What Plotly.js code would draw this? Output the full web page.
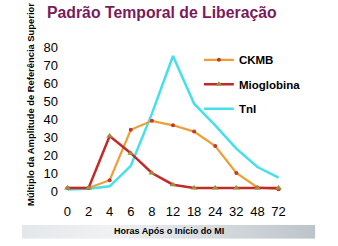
<!DOCTYPE html>
<html>
<head>
<meta charset="utf-8">
<script src="https://cdn.plot.ly/plotly-3.0.1.min.js"></script>
<style>html,body{margin:0;padding:0;background:#fff;}#chart{width:338px;height:246px;}</style>
</head>
<body>
<div id="chart"></div>
<script>
const hours = ['0','2','4','6','8','12','18','24','32','48','72'];
const ckmb = [1.7, 1.7, 6, 34, 39, 36.5, 33, 25, 10, 2, 1];
const mioglobina = [1.7, 1.7, 30.5, 21, 10, 3.5, 1.7, 1.7, 1.7, 1.7, 1.7];
const tni = [0.9, 1.3, 2.6, 14, 43, 75, 48.5, 36.5, 23.5, 13.3, 7.4];
const yTicks = [0, 10, 20, 30, 40, 50, 60, 70, 80];
const titleText = 'Padrão Temporal de Liberação';
const xTitle = 'Horas Após o Início do MI';
const yTitle = 'Múltiplo da Amplitude de Referência Superior';

const FONT = 'Arial, "Liberation Sans", sans-serif';

const traces = [
  {x: hours, y: tni, name: 'TnI', type: 'scatter', mode: 'lines',
   line: {color: '#45E0EA', width: 2.5}, legendrank: 3, legendgroup: 'c', cliponaxis: false},
  {x: hours, y: ckmb, name: 'CKMB', type: 'scatter', mode: 'lines+markers',
   line: {color: '#EE9E35', width: 2.2}, marker: {color: '#C0392B', size: 4, symbol: 'circle'},
   legendrank: 1, legendgroup: 'a', cliponaxis: false},
  {x: hours, y: mioglobina, name: 'Mioglobina', type: 'scatter', mode: 'lines+markers',
   line: {color: '#C22A2A', width: 2.5}, marker: {color: '#9E8E3E', size: 6, symbol: 'triangle-up'},
   legendrank: 2, legendgroup: 'b', cliponaxis: false}
];

const gradSvg = '<svg xmlns="http://www.w3.org/2000/svg" width="295" height="14"><defs><linearGradient id="g" x1="0" x2="1" y1="0" y2="0"><stop offset="0" stop-color="#e4e7ea"/><stop offset="0.3" stop-color="#f0f1f2"/><stop offset="1" stop-color="#bcc4cb"/></linearGradient></defs><rect width="295" height="14" fill="url(#g)"/></svg>';

const L = 58.5, R = 50.5, T = 46.7, B = 55.3;
const W = 338 - L - R, H = 246 - T - B;
const px = v => (v - L) / W;
const py = v => (246 - B - v) / H;

const layout = {
  width: 338, height: 246,
  margin: {l: L, r: R, t: T, b: B, pad: 0},
  paper_bgcolor: '#ffffff', plot_bgcolor: '#ffffff',
  font: {family: FONT, color: '#000'},
  showlegend: true,
  legend: {x: px(199), y: py(45), xanchor: 'left', yanchor: 'top',
    bgcolor: 'rgba(0,0,0,0)', font: {family: FONT, size: 11.5, color: '#000', weight: 'bold'},
    traceorder: 'grouped', tracegroupgap: 5.5, itemwidth: 30},
  xaxis: {type: 'category', range: [-0.4, 10.4], showgrid: false, zeroline: false, showline: false,
    ticks: 'outside', ticklen: 8, tickcolor: 'rgba(0,0,0,0)', tickfont: {family: FONT, size: 13, color: '#000'},
    fixedrange: true},
  yaxis: {range: [0, 80], tickvals: yTicks, showgrid: false, zeroline: false, showline: false,
    ticks: '', tickfont: {family: FONT, size: 13, color: '#000'}, fixedrange: true},
  annotations: [
    {text: titleText, xref: 'paper', yref: 'paper', x: px(162), y: py(12.5), xanchor: 'center', yanchor: 'middle',
     showarrow: false, font: {family: FONT, size: 15.8, color: '#7A1A5C', weight: 'bold'}},
    {text: yTitle, xref: 'paper', yref: 'paper', x: px(30), y: py(104), xanchor: 'center', yanchor: 'middle',
     textangle: -90, showarrow: false, font: {family: FONT, size: 9.4, color: '#000', weight: 'bold'}},
    {text: xTitle, xref: 'paper', yref: 'paper', x: px(169), y: py(231), xanchor: 'center', yanchor: 'middle',
     showarrow: false, font: {family: FONT, size: 9, color: '#000', weight: 'bold'}}
  ],
  images: [
    {source: 'data:image/svg+xml;charset=utf-8,' + encodeURIComponent(gradSvg),
     xref: 'paper', yref: 'paper', x: px(21), y: py(224.5), sizex: 295 / W, sizey: 14 / H,
     xanchor: 'left', yanchor: 'top', sizing: 'stretch', layer: 'below'}
  ]
};

Plotly.newPlot('chart', traces, layout, {displayModeBar: false, staticPlot: true});
</script>
</body>
</html>
